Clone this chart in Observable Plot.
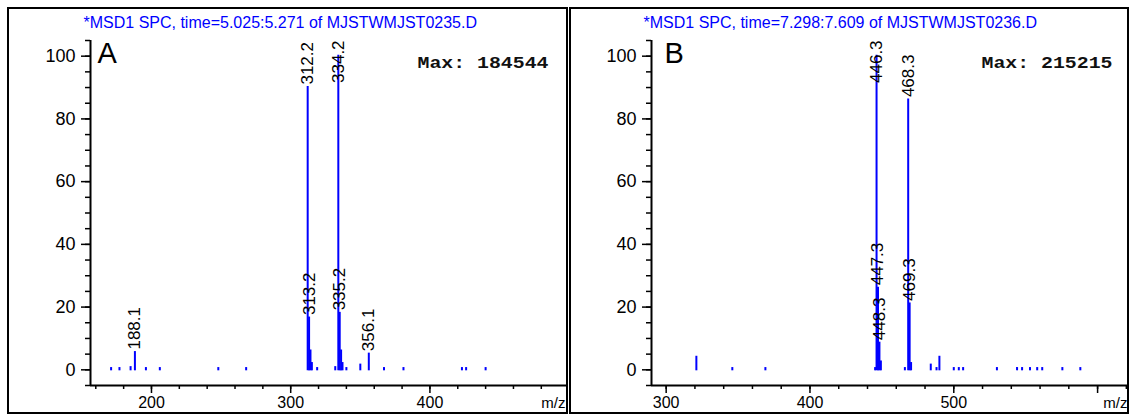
<!DOCTYPE html>
<html><head><meta charset="utf-8">
<script src="https://cdn.jsdelivr.net/npm/d3@7"></script>
<script src="https://cdn.jsdelivr.net/npm/@observablehq/plot@0.6"></script>
<style>
html,body{margin:0;padding:0;background:#fff}
body{width:1129px;height:418px;overflow:hidden;position:relative;font-family:"Liberation Sans",Arial,sans-serif}
.panel{position:absolute;top:7px;border:2px solid #000;height:403px;background:#fff;overflow:hidden}
#pa{left:7px;width:557px}
#pb{left:569px;width:556px}
</style></head><body>
<div id="pa" class="panel"></div><div id="pb" class="panel"></div>
<script>
// ---- Panel A data ----
const titleA = "*MSD1 SPC, time=5.025:5.271 of MJSTWMJST0235.D";
const letterA = "A";
const maxA = "Max: 184544";
const mzA  = [171, 177, 185, 188.1, 196, 206, 248, 268, 312.2, 313.2, 314.2, 315.2, 319, 332, 334.2, 335.2, 336.2, 337.2, 340, 350, 356.1, 367, 381, 423, 426, 440];
const intA = [0.4, 0.4, 0.7, 5.5, 0.4, 0.4, 0.4, 0.4, 90, 16.5, 6, 2, 0.4, 0.7, 100, 18, 6, 2, 0.4, 1.5, 5, 0.4, 0.4, 0.4, 0.4, 0.4];
const labelsA = ["188.1", "312.2", "313.2", "334.2", "335.2", "356.1"];
const xMajorA = [200, 300, 400];
const xLabelsA = [200, 300, 400];
const xMinorA = d3.range(160, 500, 20);

// ---- Panel B data ----
const titleB = "*MSD1 SPC, time=7.298:7.609 of MJSTWMJST0236.D";
const letterB = "B";
const maxB = "Max: 215215";
const mzB  = [321, 346, 369, 445.3, 446.3, 447.3, 448.3, 449.3, 466, 468.3, 469.3, 470.3, 484, 488, 490, 500, 503.5, 506.5, 530, 544, 547.5, 553, 558, 561.5, 575.5, 588];
const intB = [4, 0.4, 0.4, 0.4, 100, 26, 8.5, 2.5, 0.4, 86, 21, 2, 1.5, 0.4, 4, 0.4, 0.4, 0.4, 0.4, 0.4, 0.4, 0.4, 0.4, 0.4, 0.4, 0.4];
const labelsB = ["446.3", "447.3", "448.3", "468.3", "469.3"];
const xMajorB = [300, 400, 500, 600];
const xLabelsB = [300, 400, 500];
const xMinorB = d3.range(300, 621, 20);

const yMajor = [0, 20, 40, 60, 80, 100];
const yMinor = d3.range(-5, 106, 5);
const xUnit = "m/z";

const BLUE = "#0000ff";
const FONT = "'Liberation Sans', Arial, sans-serif";

function panel(o) {
  const peaks = o.mz.map((m, i) => ({mz: m, v: o.inten[i]}));
  const labs = o.labels.map(t => ({mz: +t, v: o.inten[o.mz.indexOf(+t)], t}));
  const svg = Plot.plot({
    width: o.width, height: 403,
    marginLeft: o.marginLeft, marginRight: 0, marginTop: 31, marginBottom: 27,
    x: {domain: o.xDomain, label: null},
    y: {domain: [-5, 105], label: null},
    style: {fontFamily: FONT, background: "white", color: "black"},
    marks: [
      Plot.ruleX(peaks, {x: "mz", y1: 0, y2: "v", stroke: BLUE, strokeWidth: 2, strokeLinecap: "square"}),
      Plot.text(labs, {x: "mz", y: d => Math.min(d.v, 90.5), text: "t", rotate: -90, textAnchor: "start", lineAnchor: "middle", dy: -3, fontSize: 17, fill: "black"}),
      Plot.axisY({ticks: yMajor, tickSize: 9, tickPadding: 6, fontSize: 18, strokeWidth: 1.5, label: null}),
      Plot.axisY({ticks: yMinor, tickSize: 5, tickFormat: () => "", strokeWidth: 1.5, label: null}),
      Plot.axisX({ticks: o.xMajor, tickSize: 8, tickPadding: 3, tickFormat: d => o.xLabels.includes(d) ? String(d) : "", fontSize: 16, strokeWidth: 1.5, label: null}),
      Plot.axisX({ticks: o.xMinor, tickSize: 4, tickFormat: () => "", strokeWidth: 1.5, label: null}),
      Plot.ruleY([-5], {strokeWidth: 2}),
      Plot.ruleX([o.xDomain[0]], {strokeWidth: 2}),
      Plot.text([o.letter], {text: d => d, frameAnchor: "top-left", textAnchor: "start", lineAnchor: "top", dx: o.letterDx, dy: 2, fontSize: 29}),
      Plot.text([o.title], {text: d => d, frameAnchor: "top-left", textAnchor: "start", lineAnchor: "bottom", dx: o.titleDx, dy: -13, fontSize: 16, fill: BLUE}),
      Plot.text([o.maxText], {text: d => d, frameAnchor: "top-right", textAnchor: "end", lineAnchor: "bottom", dx: o.maxDx, dy: 27, fontSize: 16, fontWeight: "bold", fontFamily: "'Liberation Mono', 'DejaVu Sans Mono', monospace", fill: "#111"}),
      Plot.text([xUnit], {text: d => d, frameAnchor: "bottom-right", textAnchor: "end", lineAnchor: "bottom", dx: o.unitDx, dy: 22, fontSize: 15})
    ]
  });
  svg.querySelectorAll("text").forEach(t => {
    if (t.textContent.startsWith("Max:")) {
      t.setAttribute("textLength", "131");
      t.setAttribute("lengthAdjust", "spacingAndGlyphs");
    }
  });
  return svg;
}

document.getElementById("pa").appendChild(panel({
  width: 557, marginLeft: 81, xDomain: [156.2, 498.1],
  mz: mzA, inten: intA, labels: labelsA,
  xMajor: xMajorA, xLabels: xLabelsA, xMinor: xMinorA,
  letter: letterA, title: titleA, maxText: maxA,
  letterDx: 7, titleDx: -7, maxDx: -18, unitDx: -1
}));
document.getElementById("pb").appendChild(panel({
  width: 556, marginLeft: 80, xDomain: [289.8, 620.8],
  mz: mzB, inten: intB, labels: labelsB,
  xMajor: xMajorB, xLabels: xLabelsB, xMinor: xMinorB,
  letter: letterB, title: titleB, maxText: maxB,
  letterDx: 13, titleDx: -8, maxDx: -15, unitDx: 0
}));
</script>
</body></html>
